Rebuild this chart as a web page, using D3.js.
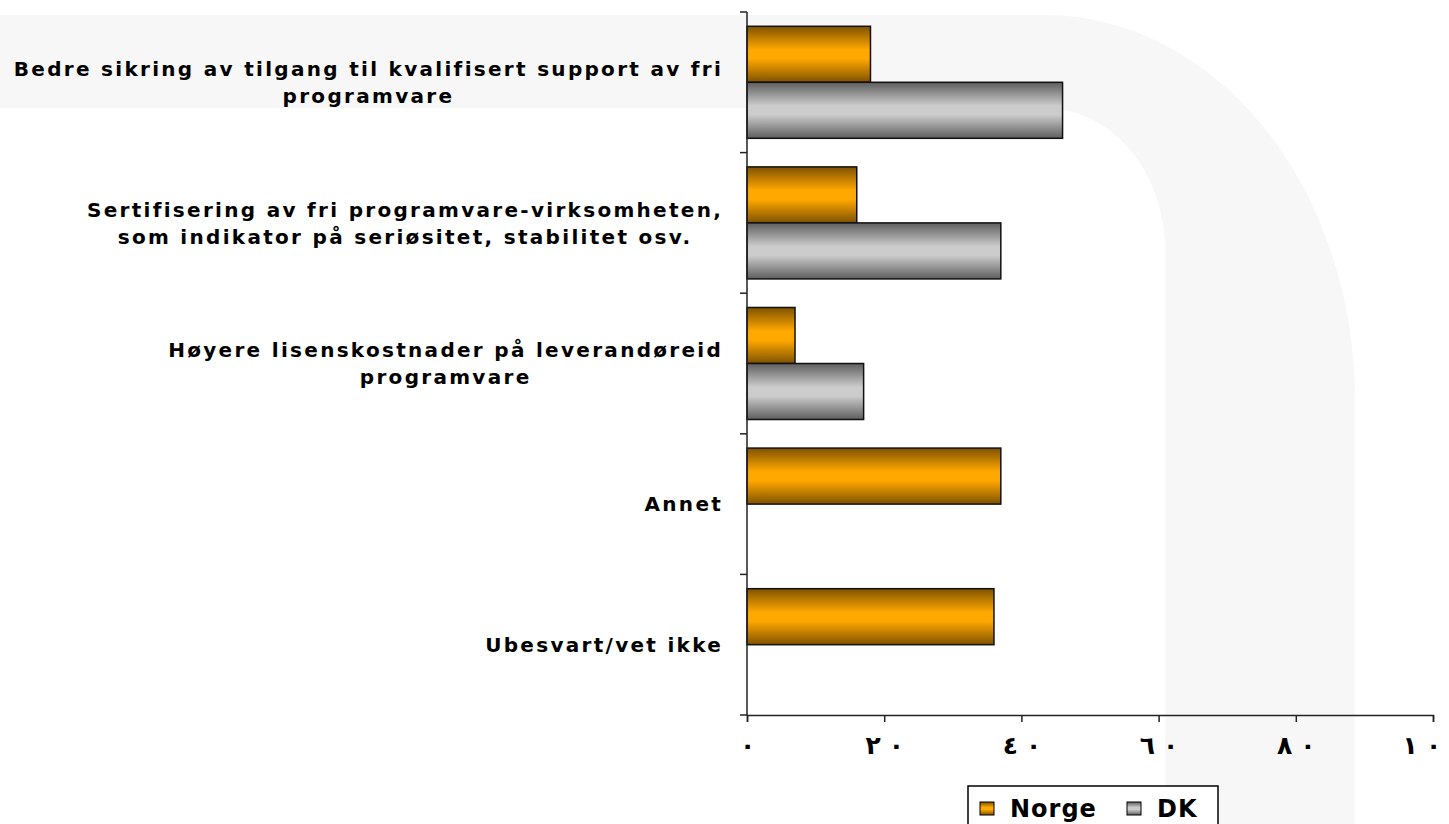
<!DOCTYPE html>
<html>
<head>
<meta charset="utf-8">
<script src="https://cdn.jsdelivr.net/npm/d3@7"></script>
<style>
body { margin: 0; background: #fff; overflow: hidden; }
text { font-family: "DejaVu Sans", Verdana, sans-serif; font-weight: bold; }
</style>
</head>
<body>
<div id="c"></div>
<script>
var categories = [
	"Bedre sikring av tilgang til kvalifisert support av fri\nprogramvare",
	"Sertifisering av fri programvare-virksomheten,\nsom indikator på seriøsitet, stabilitet osv.",
	"Høyere lisenskostnader på leverandøreid\nprogramvare",
	"Annet",
	"Ubesvart/vet ikke"
];
var series = ["Norge", "DK"];
var norge = [18, 16, 7, 37, 36];
var dk = [46, 37, 17, 0, 0];
var tick_vals = [0, 20, 40, 60, 80, 100];
var tick_labels = ["٠", "٢٠", "٤٠", "٦٠", "٨٠", "١٠٠"];

var width = 1449, height = 824;
var x0 = 747, x1 = 1433, y0 = 12, y1 = 715;

var svg = d3.select("#c").append("svg")
	.attr("width", width)
	.attr("height", height);

var defs = svg.append("defs");
function grad(id, dark, light) {
	var g = defs.append("linearGradient").attr("id", id)
		.attr("x1", 0).attr("y1", 0).attr("x2", 0).attr("y2", 1);
	g.append("stop").attr("offset", "0%").attr("stop-color", dark);
	g.append("stop").attr("offset", "42%").attr("stop-color", light);
	g.append("stop").attr("offset", "58%").attr("stop-color", light);
	g.append("stop").attr("offset", "100%").attr("stop-color", dark);
}
grad("g-norge", "#7f5200", "#ffa800");
grad("g-dk", "#5e5e5e", "#cccccc");
var fills = { Norge: "url(#g-norge)", DK: "url(#g-dk)" };

// faint background shape
svg.append("path")
	.attr("d", "M0,15 L1045,15 A310,385 0 0 1 1355,400 L1355,824 L1165,824 L1165,250 A120,142 0 0 0 1045,108 L0,108 Z")
	.attr("fill", "#f7f7f7");

var x = d3.scaleLinear().domain([0, 100]).range([x0, x1]);
var y = d3.scaleBand().domain(categories).range([y0, y1]);
var ys = d3.scaleBand().domain(series).range([0, y.bandwidth()])
	.paddingInner(0).paddingOuter(0.255);

var rows = categories.map(function(c, i) {
	return { cat: c, vals: [{ s: "Norge", v: norge[i] }, { s: "DK", v: dk[i] }] };
});

var grp = svg.selectAll(".row")
	.data(rows)
	.enter().append("g")
	.attr("class", "row")
	.attr("transform", function(d) { return "translate(0," + y(d.cat) + ")"; });

grp.selectAll("rect")
	.data(function(d) { return d.vals.filter(function(e) { return e.v > 0; }); })
	.enter().append("rect")
	.attr("x", x(0))
	.attr("y", function(d) { return ys(d.s); })
	.attr("width", function(d) { return x(d.v) - x(0); })
	.attr("height", ys.bandwidth())
	.attr("fill", function(d) { return fills[d.s]; })
	.attr("stroke", "#111")
	.attr("stroke-width", 1.5);

// y axis, ticks sit on the category boundaries
var yax = svg.append("g");
yax.append("line")
	.attr("x1", x0).attr("x2", x0)
	.attr("y1", y0).attr("y2", y1)
	.attr("stroke", "#222").attr("stroke-width", 1.5);
var bounds = categories.map(function(c) { return y(c); }).concat([y1]);
yax.selectAll(".yt")
	.data(bounds)
	.enter().append("line")
	.attr("x1", x0 - 7).attr("x2", x0)
	.attr("y1", function(d) { return d; })
	.attr("y2", function(d) { return d; })
	.attr("stroke", "#222").attr("stroke-width", 1.5);

// x axis
var xax = svg.append("g")
	.attr("transform", "translate(0," + y1 + ")")
	.call(d3.axisBottom(x)
		.tickValues(tick_vals)
		.tickFormat(function(d, i) { return tick_labels[i]; })
		.tickSize(7)
		.tickPadding(14));
xax.select(".domain").attr("stroke", "#222").attr("stroke-width", 1.5);
xax.selectAll(".tick line").attr("stroke", "#222").attr("stroke-width", 1.5);

// arabic digits ignore letter-spacing, so space them out one by one
var digit_gap = 8;
xax.selectAll(".tick text")
	.attr("font-size", 25)
	.attr("font-family", "DejaVu Sans")
	.attr("font-weight", "bold")
	.attr("fill", "#000")
	.each(function(d, i) {
		var t = d3.select(this);
		var chars = Array.from(tick_labels[i]);
		t.text(null);
		chars.forEach(function(ch, j) {
			t.append("tspan")
				.attr("dx", j > 0 ? digit_gap : 0)
				.text(ch);
		});
	});

// category labels
var lab_right = 722;
var lab_ls = 2.3;
grp.each(function(d) {
	var lines = d.cat.split("\n");
	var g = d3.select(this).append("g");
	var t = g.append("text")
		.attr("text-anchor", "middle")
		.attr("font-size", 20)
		.attr("letter-spacing", lab_ls)
		.attr("fill", "#000");
	var lh = 27;
	var mid = y.bandwidth() / 2;
	lines.forEach(function(l, i) {
		t.append("tspan")
			.attr("x", 0)
			.attr("y", mid + (i - (lines.length - 1) / 2) * lh)
			.attr("dy", "0.36em")
			.text(l);
	});
	var w = t.node().getBBox().width - lab_ls;
	g.attr("transform", "translate(" + (lab_right - w / 2) + ",0)");
});

// legend
var leg = svg.append("g").attr("transform", "translate(968,786)");
leg.append("rect")
	.attr("x", 0).attr("y", 0)
	.attr("width", 250).attr("height", 45)
	.attr("fill", "#fff")
	.attr("stroke", "#000").attr("stroke-width", 1.5);
var leg_x = [12, 159];
series.forEach(function(s, i) {
	leg.append("rect")
		.attr("x", leg_x[i]).attr("y", 16)
		.attr("width", 14).attr("height", 13)
		.attr("fill", fills[s])
		.attr("stroke", "#000").attr("stroke-width", 1);
	leg.append("text")
		.attr("x", leg_x[i] + 30).attr("y", 22)
		.attr("dy", "0.36em")
		.attr("font-size", 24)
		.attr("letter-spacing", 1)
		.attr("fill", "#000")
		.text(s);
});
</script>
</body>
</html>
